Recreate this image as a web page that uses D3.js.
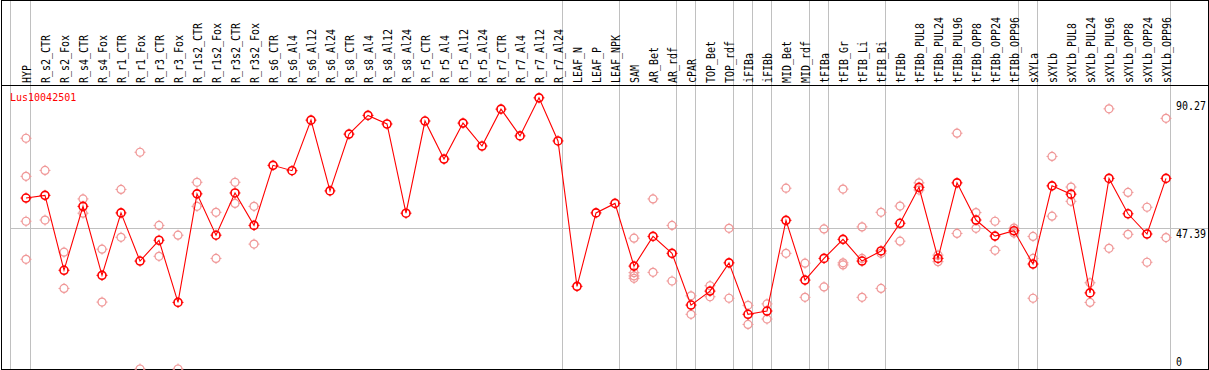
<!DOCTYPE html>
<html>
<head>
<meta charset="utf-8">
<script src="https://cdn.jsdelivr.net/npm/d3@7"></script>
<style>
body { margin:0; background:#fff; }
svg { display:block; }
.colLabel, .yLabel { font-family:"DejaVu Sans Mono", monospace; font-size:12px; fill:#000; }
.title { font-family:"DejaVu Sans Mono", monospace; font-size:10px; fill:#ff0000; }
</style>
</head>
<body>
<svg></svg>
<script>
//sample columns
var categories = ["HYP","R_s2_CTR","R_s2_Fox","R_s4_CTR","R_s4_Fox","R_r1_CTR","R_r1_Fox","R_r3_CTR","R_r3_Fox",
  "R_r1s2_CTR","R_r1s2_Fox","R_r3s2_CTR","R_r3s2_Fox","R_s6_CTR","R_s6_Al4","R_s6_Al12","R_s6_Al24",
  "R_s8_CTR","R_s8_Al4","R_s8_Al12","R_s8_Al24","R_r5_CTR","R_r5_Al4","R_r5_Al12","R_r5_Al24",
  "R_r7_CTR","R_r7_Al4","R_r7_Al12","R_r7_Al24","LEAF_N","LEAF_P","LEAF_NPK","SAM","AR_Bet","AR_rdf",
  "cPAR","TOP_Bet","TOP_rdf","iFIBa","iFIBb","MID_Bet","MID_rdf","tFIBa","tFIB_Gr","tFIB_Li","tFIB_Bi",
  "tFIBb","tFIBb_PUL8","tFIBb_PUL24","tFIBb_PUL96","tFIBb_OPP8","tFIBb_OPP24","tFIBb_OPP96",
  "sXYLa","sXYLb","sXYLb_PUL8","sXYLb_PUL24","sXYLb_PUL96","sXYLb_OPP8","sXYLb_OPP24","sXYLb_OPP96"]

//mean expression per column
var meanValues = [57.5,58.4,33.2,54.7,31.5,52.5,36.3,43.3,22.4,
  58.9,45.0,59.2,48.3,68.5,66.7,83.7,59.9,
  79.0,85.3,82.4,52.4,83.4,70.6,82.7,75.0,
  87.4,78.4,91.2,76.7,27.8,52.5,55.7,34.6,44.6,38.9,
  21.5,26.2,35.7,18.4,19.5,50.0,29.9,37.2,43.6,36.3,39.7,
  49.0,61.1,37.2,62.6,50.1,44.7,46.5,
  35.3,61.6,58.8,25.6,64.1,52.2,45.4,64.1]

//single replicates per column
var replicateValues = [
  [77.6,64.8,49.7,36.9],[66.8,50.1],[39.3,27.1],[57.2,52.4],[40.3,22.5],[60.4,44.3],[72.9,0],[48.3,37.9],[45.0,0],
  [62.8,54.7],[52.7,37.2],[62.8,55.7],[54.7,42.0],[],[],[],[],
  [],[],[],[],[],[],[],[],
  [],[],[],[],[],[],[],[44.0,32.4,31.3,30.5],[57.2,32.5],[48.3,29.6],
  [24.6,18.4],[28.0,24.3],[47.3,23.8],[21.4,15.0],[21.9,16.8],[60.8,38.9],[35.6,24.1],[47.1,27.6],[60.5,35.7,35.0],[47.8,37.2,24.1],[52.7,38.9,27.1],
  [54.8,43.0],[62.6,60.2],[38.3,36.1],[79.3,45.6],[52.6,47.3],[49.7,39.9],[47.4,45.7],
  [44.6,37.2,23.8],[71.5,51.4],[61.2,56.4],[29.0,22.4],[87.5,40.6],[59.4,45.3],[54.4,35.9],[84.3,44.2]]

//last column of each tissue group
var groupEnds = ["HYP","R_r7_Al24","LEAF_NPK","AR_rdf","cPAR","TOP_rdf","iFIBa","iFIBb","MID_rdf",
  "tFIBa","tFIB_Bi","tFIBb_OPP96","sXYLa","sXYLb_OPP96"]

var yTickValues = [0,47.39,90.27]
var geneName = "Lus10042501"

var makeTranslateString = function(x,y)
{
    return "translate("+x+","+y+")";
}

//frame, header line and the grey guide lines
var drawFrame = function(screen,graph,xScale,yScale)
{
    var svg = d3.select("svg")

    svg.selectAll("line.sep")
        .data(groupEnds)
        .enter()
        .append("line")
        .classed("sep",true)
        .attr("x1",function(d){return Math.round(xScale(d)+4)+0.5})
        .attr("x2",function(d){return Math.round(xScale(d)+4)+0.5})
        .attr("y1",0)
        .attr("y2",screen.height)
        .attr("stroke","#c0c0c0")

    //left guide
    svg.append("line")
        .attr("x1",xScale(categories[0])-15.5)
        .attr("x2",xScale(categories[0])-15.5)
        .attr("y1",0)
        .attr("y2",screen.height)
        .attr("stroke","#c0c0c0")

    //guide at middle tick
    svg.append("line")
        .attr("x1",10)
        .attr("x2",screen.width)
        .attr("y1",Math.round(yScale(yTickValues[1]))+0.5)
        .attr("y2",Math.round(yScale(yTickValues[1]))+0.5)
        .attr("stroke","#c0c0c0")

    svg.append("line")
        .attr("x1",1)
        .attr("x2",screen.width)
        .attr("y1",graph.headerY+0.5)
        .attr("y2",graph.headerY+0.5)
        .attr("stroke","#000")

    svg.append("rect")
        .attr("x",1.5)
        .attr("y",0.5)
        .attr("width",screen.width-2)
        .attr("height",screen.height-1)
        .attr("fill","none")
        .attr("stroke","#000")
}

var drawLabels = function(graph,xScale,yScale)
{
    var svg = d3.select("svg")

    svg.append("g")
        .selectAll("text")
        .data(categories)
        .enter()
        .append("text")
        .classed("colLabel",true)
        .attr("transform",function(d){return makeTranslateString(xScale(d)+4.5,graph.headerY-2)+" rotate(-90)"})
        .attr("textLength",function(d){return d.length*6})
        .attr("lengthAdjust","spacingAndGlyphs")
        .text(function(d){return d})

    svg.append("g")
        .selectAll("text")
        .data(yTickValues)
        .enter()
        .append("text")
        .classed("yLabel",true)
        .attr("x",graph.labelX)
        .attr("y",function(d){return Math.min(yScale(d)+9.5,366)})
        .attr("textLength",function(d){return String(d).length*6})
        .attr("lengthAdjust","spacingAndGlyphs")
        .text(function(d){return d})

    svg.append("text")
        .classed("title",true)
        .attr("x",10)
        .attr("y",100.5)
        .text(geneName)
}

//circle with four small ticks, like the original markers
var drawMarkers = function(target,points,color,width)
{
    var r = 4
    var g = target.selectAll(null)
        .data(points)
        .enter()
        .append("g")
        .attr("transform",function(p){return makeTranslateString(p.x,p.y)})

    g.append("circle")
        .attr("r",r)
        .attr("fill","none")
        .attr("stroke",color)
        .attr("stroke-width",width)

    g.append("path")
        .attr("d","M0,"+(-r-1.5)+"v2M0,"+(r-0.5)+"v2M"+(-r-1.5)+",0h2M"+(r-0.5)+",0h2")
        .attr("stroke",color)
        .attr("stroke-width",1)
}

var drawData = function(xScale,yScale)
{
    var target = d3.select("svg").append("g").classed("data",true)

    var reps = []
    replicateValues.forEach(function(list,i)
    {
        list.forEach(function(v)
        {
            reps.push({x:xScale(categories[i]),y:yScale(v)})
        })
    })
    drawMarkers(target,reps,"#f09898",1.2)

    var line = d3.line()
        .x(function(d,i){return xScale(categories[i])})
        .y(function(d){return yScale(d)})

    target.append("path")
        .datum(meanValues)
        .attr("d",line)
        .attr("fill","none")
        .attr("stroke","#ff0000")
        .attr("stroke-width",1.1)

    var means = meanValues.map(function(v,i)
    {
        return {x:xScale(categories[i]),y:yScale(v)}
    })
    drawMarkers(target,means,"#ff0000",1.6)
}

var initGraph = function()
{
    var screen = {width:1209,height:370}
    var graph = {headerY:85,bottom:369,firstX:26,lastX:1166,labelX:1176}

    d3.select("svg")
        .attr("width",screen.width)
        .attr("height",screen.height)

    var xScale = d3.scalePoint()
        .domain(categories)
        .range([graph.firstX,graph.lastX])

    var yScale = d3.scaleLinear()
        .domain([0,90.27])
        .range([graph.bottom,100.6])

    drawFrame(screen,graph,xScale,yScale)
    drawLabels(graph,xScale,yScale)
    drawData(xScale,yScale)
}

initGraph()
</script>
</body>
</html>
